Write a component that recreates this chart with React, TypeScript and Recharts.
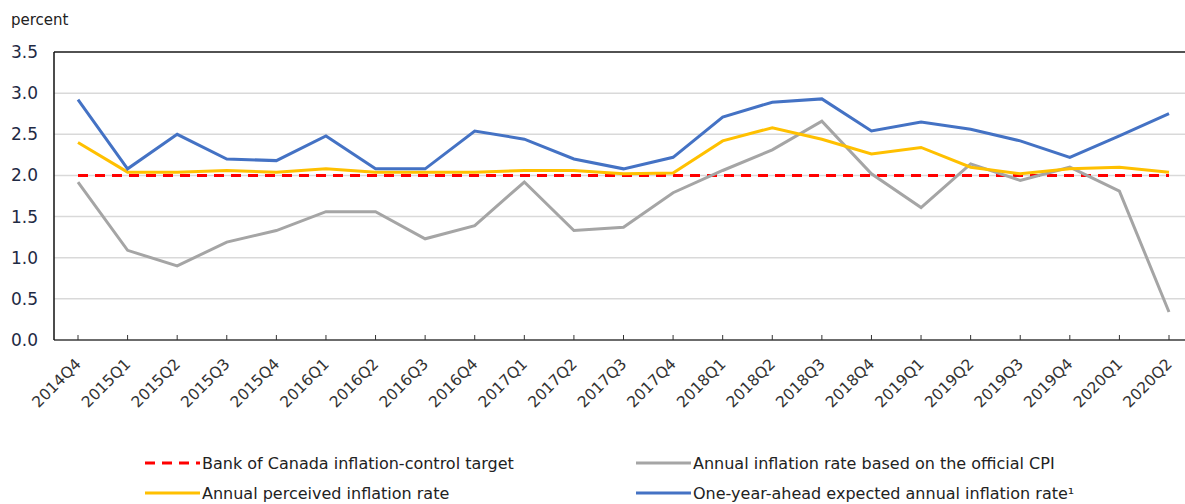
import { CartesianGrid, Line, LineChart, ReferenceLine, XAxis, YAxis } from "recharts";

const quarters = [
  "2014Q4", "2015Q1", "2015Q2", "2015Q3", "2015Q4", "2016Q1", "2016Q2", "2016Q3",
  "2016Q4", "2017Q1", "2017Q2", "2017Q3", "2017Q4", "2018Q1", "2018Q2", "2018Q3",
  "2018Q4", "2019Q1", "2019Q2", "2019Q3", "2019Q4", "2020Q1", "2020Q2",
];
const target = [2, 2, 2, 2, 2, 2, 2, 2, 2, 2, 2, 2, 2, 2, 2, 2, 2, 2, 2, 2, 2, 2, 2];
const cpi = [
  1.92, 1.09, 0.9, 1.19, 1.33, 1.56, 1.56, 1.23, 1.39, 1.92, 1.33, 1.37, 1.79, 2.06,
  2.31, 2.66, 2.02, 1.61, 2.14, 1.94, 2.1, 1.81, 0.34,
];
const perceived = [
  2.4, 2.04, 2.04, 2.06, 2.04, 2.08, 2.04, 2.04, 2.04, 2.06, 2.06, 2.02, 2.03, 2.42,
  2.58, 2.44, 2.26, 2.34, 2.1, 2.02, 2.08, 2.1, 2.04,
];
const expected = [
  2.92, 2.08, 2.5, 2.2, 2.18, 2.48, 2.08, 2.08, 2.54, 2.44, 2.2, 2.08, 2.22, 2.71,
  2.89, 2.93, 2.54, 2.65, 2.56, 2.42, 2.22, 2.48, 2.75,
];
const yTicks = [0, 0.5, 1, 1.5, 2, 2.5, 3, 3.5];

const data = quarters.map((q, i) => ({
  q,
  target: target[i],
  cpi: cpi[i],
  perceived: perceived[i],
  expected: expected[i],
}));

const FONT = "'DejaVu Sans', Verdana, sans-serif";

const legendItems = [
  { label: "Bank of Canada inflation-control target", color: "#ff0000", dashed: true },
  { label: "Annual inflation rate based on the official CPI", color: "#a5a5a5" },
  { label: "Annual perceived inflation rate", color: "#ffc000" },
  { label: "One-year-ahead expected annual inflation rate\u00b9", color: "#4472c4" },
];

function QuarterTick(props: any) {
  const { x, y, payload } = props;
  return (
    <g>
      <line x1={x} x2={x} y1={y - 5} y2={y} stroke="#333" strokeWidth={1} />
      <text
        transform={`translate(${x + 4},${y + 25}) rotate(-45)`}
        textAnchor="end"
        fontSize={15.5}
        fontFamily={FONT}
        fill="#333"
      >
        {payload.value}
      </text>
    </g>
  );
}

export default function App() {
  return (
    <div style={{ position: "absolute", left: 0, top: 0, width: 1185, height: 504, background: "#fff" }}>
      <div
        style={{
          position: "absolute",
          left: 11,
          top: 11,
          fontFamily: FONT,
          fontSize: 15,
          color: "#222",
        }}
      >
        percent
      </div>
      <LineChart
        width={1185}
        height={504}
        data={data}
        margin={{ top: 52, right: 0, left: 0, bottom: 84 }}
      >
        <CartesianGrid vertical={false} stroke="#d9d9d9" strokeWidth={1.5} />
        <XAxis
          dataKey="q"
          interval={0}
          padding={{ left: 24, right: 16 }}
          tickSize={0}
          tickMargin={0}
          tick={<QuarterTick />}
          axisLine={{ stroke: "#444", strokeWidth: 1.5 }}
          height={80}
        />
        <YAxis
          domain={[0, 3.5]}
          ticks={yTicks}
          width={54}
          tickLine={false}
          axisLine={{ stroke: "#111", strokeWidth: 1.5 }}
          tickFormatter={(v: number) => v.toFixed(1)}
          tick={{ fontSize: 17, fontFamily: FONT, fill: "#1f2a44" }}
          tickMargin={10}
        />
        <ReferenceLine y={3.5} stroke="#222" strokeWidth={1.5} />
        <Line
          dataKey="target"
          stroke="#ff0000"
          strokeWidth={3}
          strokeDasharray="10 7"
          dot={false}
          isAnimationActive={false}
        />
        <Line dataKey="cpi" stroke="#a5a5a5" strokeWidth={3} dot={false} isAnimationActive={false} />
        <Line dataKey="perceived" stroke="#ffc000" strokeWidth={3} dot={false} isAnimationActive={false} />
        <Line dataKey="expected" stroke="#4472c4" strokeWidth={3} dot={false} isAnimationActive={false} />
      </LineChart>
      {legendItems.map((item, i) => (
        <div
          key={item.label}
          style={{
            position: "absolute",
            left: i % 2 === 0 ? 145 : 636,
            top: i < 2 ? 453 : 483,
            display: "flex",
            alignItems: "center",
            fontFamily: FONT,
            fontSize: 16,
            color: "#222",
            whiteSpace: "nowrap",
          }}
        >
          <svg width={56} height={20}>
            <line
              x1={0}
              x2={55}
              y1={10}
              y2={10}
              stroke={item.color}
              strokeWidth={3}
              strokeDasharray={item.dashed ? "10 7" : undefined}
            />
          </svg>
          <span style={{ marginLeft: 1 }}>{item.label}</span>
        </div>
      ))}
    </div>
  );
}
